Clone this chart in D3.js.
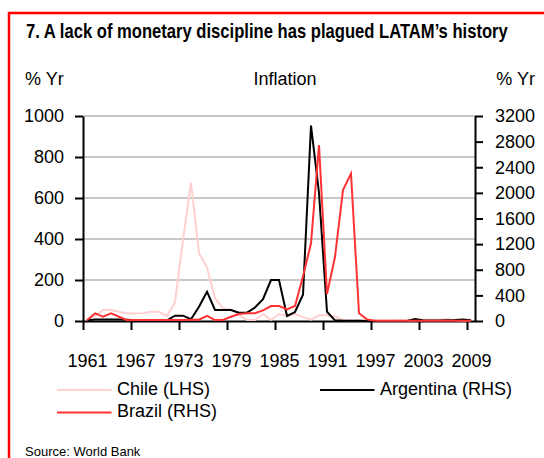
<!DOCTYPE html>
<html>
<head>
<meta charset="utf-8">
<script src="https://cdn.jsdelivr.net/npm/d3@7/dist/d3.min.js"></script>
<style>
  body { margin: 0; background: #fff; }
  svg text { font-family: "Liberation Sans", Arial, sans-serif; fill: #000; }
</style>
</head>
<body>
<div id="chart"></div>
<script>
// years on the category axis
var years = [1961, 1962, 1963, 1964, 1965, 1966, 1967, 1968, 1969, 1970,
             1971, 1972, 1973, 1974, 1975, 1976, 1977, 1978, 1979, 1980,
             1981, 1982, 1983, 1984, 1985, 1986, 1987, 1988, 1989, 1990,
             1991, 1992, 1993, 1994, 1995, 1996, 1997, 1998, 1999, 2000,
             2001, 2002, 2003, 2004, 2005, 2006, 2007, 2008, 2009]

// inflation, % yr (Chile on the left axis, the others on the right)
var chile = [8, 25, 54, 54, 45, 37, 37, 38, 45, 45,
             24, 92, 395, 675, 330, 262, 111, 62, 55, 30,
             5, 5, 34, 5, 34, 24, 34, 20, 6, 28,
             28, 22, 5, 4, 4, 4, 3, 3, 2, 4,
             3, 4, 5, 6, 6, 10, 5, 1, 4]

var argentina = [10, 25, 25, 25, 25, 20, 10, 5, 5, 5,
                 10, 83, 83, 27, 223, 457, 172, 172, 172, 130,
                 130, 210, 340, 640, 640, 78, 140, 410, 3050, 2000,
                 145, 10, 5, 3, 3, 0, 0, 0, 0, 0,
                 0, 30, 10, 8, 9, 13, 14, 22, 10]

var brazil = [10, 120, 67, 120, 67, 12, 15, 15, 15, 15,
              15, 15, 15, 20, 20, 80, 15, 15, 67, 109,
              120, 120, 165, 234, 234, 182, 234, 700, 1212, 2746,
              420, 1003, 2043, 2300, 120, 25, 5, 3, 3, 3,
              3, 3, 3, 3, 3, 3, 3, 3, 3]

var leftTicks  = [0, 200, 400, 600, 800, 1000]
var rightTicks = [0, 400, 800, 1200, 1600, 2000, 2400, 2800, 3200]
var yearTicks  = [1961, 1967, 1973, 1979, 1985, 1991, 1997, 2003, 2009]

var legendNames  = ['Chile (LHS)', 'Argentina (RHS)', 'Brazil (RHS)']
var seriesColors = ['#ffd0d0', '#000000', '#ff3333']

var width = 544, height = 458

var svg = d3.select('#chart').append('svg')
  .attr('width', width)
  .attr('height', height)

// red frame, open to the right and bottom
svg.append('path')
  .attr('d', 'M 546 13 H 9 V 460')
  .attr('fill', 'none')
  .attr('stroke', '#ff0000')
  .attr('stroke-width', 2.5)

// title is set in a condensed bold face: squeeze it to the reference width
var title = svg.append('text')
  .attr('font-size', 20).attr('font-weight', 'bold')
  .text('7. A lack of monetary discipline has plagued LATAM\u2019s history')
var tw = title.node().getComputedTextLength()
title.attr('transform', 'translate(26,38) scale(' + (482 / tw) + ',1)')

svg.append('text')
  .attr('x', 25).attr('y', 84.5).attr('font-size', 18)
  .text('% Yr')

svg.append('text')
  .attr('x', 285).attr('y', 84.5).attr('font-size', 18)
  .attr('text-anchor', 'middle')
  .text('Inflation')

svg.append('text')
  .attr('x', 535).attr('y', 84.5).attr('font-size', 18)
  .attr('text-anchor', 'end')
  .text('% Yr')

var x = d3.scaleLinear().domain([1960.5, 2009.5]).range([83, 475])
var yL = d3.scaleLinear().domain([0, 1000]).range([321, 116])
var yR = d3.scaleLinear().domain([0, 3200]).range([321, 116])

// horizontal gridlines from the left axis
svg.append('g').selectAll('line')
  .data(leftTicks.slice(1))
  .enter().append('line')
  .attr('x1', x.range()[0]).attr('x2', x.range()[1])
  .attr('y1', function (d) { return yL(d) })
  .attr('y2', function (d) { return yL(d) })
  .attr('stroke', '#c8c8c8')
  .attr('stroke-width', 2)

function styleAxis(g) {
  g.selectAll('.domain').attr('stroke', '#000').attr('stroke-width', 2)
  g.selectAll('.tick line').attr('stroke', '#000').attr('stroke-width', 2)
  g.selectAll('.tick text').attr('font-size', 18)
  g.attr('font-family', null).attr('font-size', null)
}

svg.append('g')
  .attr('transform', 'translate(' + x.range()[0] + ',0)')
  .call(d3.axisLeft(yL).tickValues(leftTicks).tickFormat(d3.format('d'))
    .tickSize(8).tickSizeOuter(0).tickPadding(11))
  .call(styleAxis)

svg.append('g')
  .attr('transform', 'translate(' + x.range()[1] + ',0)')
  .call(d3.axisRight(yR).tickValues(rightTicks).tickFormat(d3.format('d'))
    .tickSize(8).tickSizeOuter(0).tickPadding(12))
  .call(styleAxis)

// year ticks sit on category boundaries, labels on the category centre
var half = (x(1962) - x(1961)) / 2
var xAxis = svg.append('g')
  .attr('transform', 'translate(0,' + yL(0) + ')')
  .call(d3.axisBottom(x)
    .tickValues(yearTicks.map(function (d) { return d - 0.5 }))
    .tickFormat(function (d) { return d + 0.5 })
    .tickSize(9).tickSizeOuter(0).tickPadding(24))
  .call(styleAxis)
xAxis.selectAll('.tick text').attr('dx', half)

function drawSeries(values, yScale, color) {
  var line = d3.line()
    .x(function (d, i) { return x(years[i]) })
    .y(function (d) { return yScale(d) })
  svg.append('path')
    .datum(values)
    .attr('fill', 'none')
    .attr('stroke', color)
    .attr('stroke-width', 2)
    .attr('d', line)
}

drawSeries(chile, yL, seriesColors[0])
drawSeries(argentina, yR, seriesColors[1])
drawSeries(brazil, yR, seriesColors[2])

// legend
var legendPos = [{x: 57, y: 390}, {x: 320, y: 390}, {x: 57, y: 412.6}]
var legend = svg.append('g').selectAll('g')
  .data(legendNames)
  .enter().append('g')
  .attr('transform', function (d, i) { return 'translate(' + legendPos[i].x + ',' + legendPos[i].y + ')' })

legend.append('line')
  .attr('x1', 0).attr('x2', 54.5)
  .attr('stroke', function (d, i) { return seriesColors[i] })
  .attr('stroke-width', 2)

legend.append('text')
  .attr('x', 60).attr('y', 4.5)
  .attr('font-size', 18)
  .text(function (d) { return d })

svg.append('text')
  .attr('x', 25).attr('y', 456).attr('font-size', 13)
  .text('Source: World Bank')
</script>
</body>
</html>
